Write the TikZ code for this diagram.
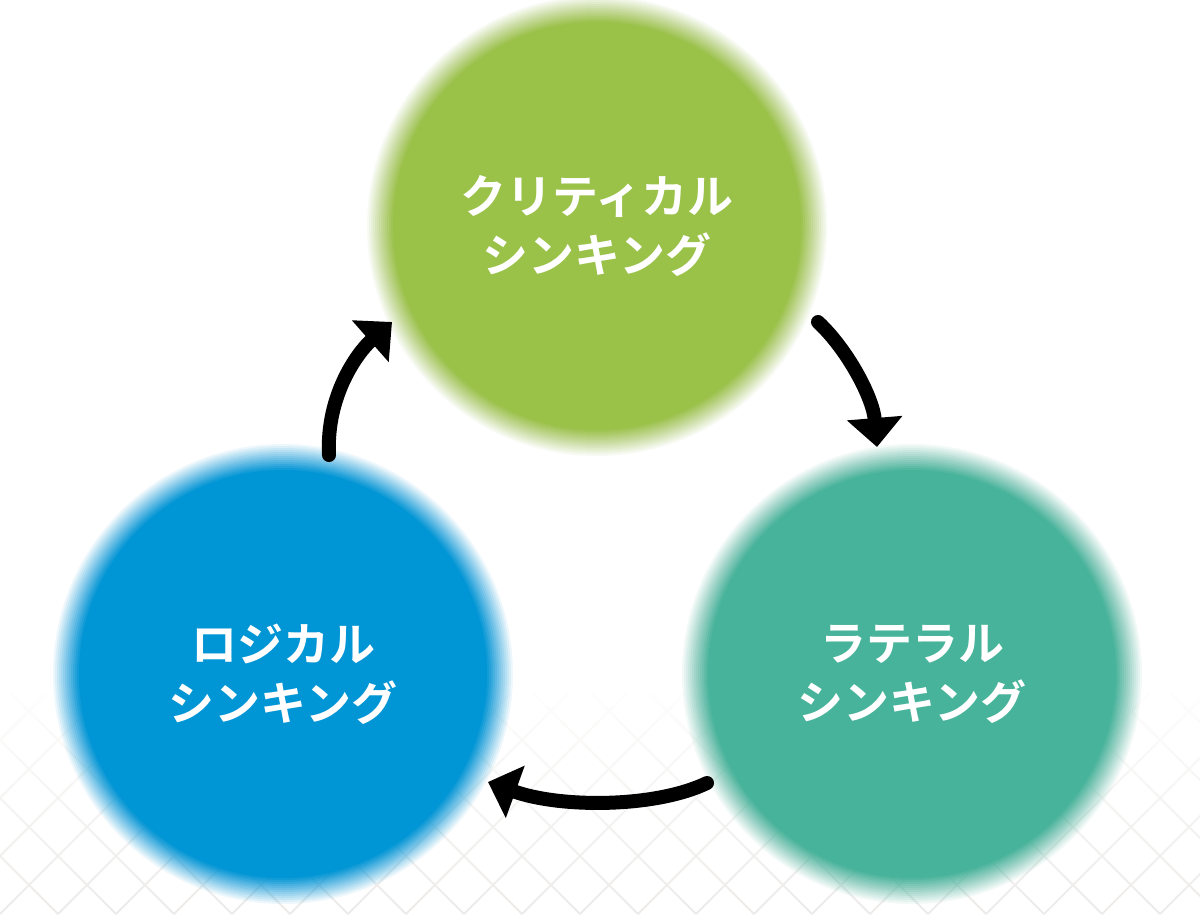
\documentclass[tikz,border=0pt]{standalone}
\usepackage{fontspec}
\newfontfamily\jp{Noto Sans CJK JP Bold}
\usetikzlibrary{arrows.meta}
\definecolor{cgreen}{HTML}{9AC148}
\definecolor{cblue}{HTML}{0095D5}
\definecolor{cteal}{HTML}{47B39A}
\definecolor{latcol}{HTML}{EDEBE9}
\pgfdeclarelayer{bg}
\pgfsetlayers{bg,main}
\tikzset{
  ball/.style={circle, inner sep=0pt, minimum size=428pt,
    text=white, align=center, font=\jp\fontsize{46}{59}\selectfont},
  cyc/.style={line width=14pt, line cap=round, -{Triangle[length=29pt,width=54pt]}},
  latline/.style={draw=latcol, line width=1.8pt}
}
% soft-edged disc: linear fade from radius 202pt (opaque) to 230pt (clear)
\newcommand{\blurdisc}[2]{%
  \foreach \j in {1,...,14} {
    \pgfmathsetmacro{\rr}{232-2*\j}
    \pgfmathsetmacro{\oo}{1/(15-\j)}
    \fill[#2, opacity=\oo] (#1.center) circle[radius=\rr pt];
  }
}
\begin{document}
\begin{tikzpicture}[x=1pt,y=-1pt]
\useasboundingbox (0,0) rectangle (1200,914);
% circles with text
\node[ball] (crit) at (597,226) {クリティカル\\シンキング};
\node[ball] (log) at (283,674) {ロジカル\\シンキング};
\node[ball] (lat) at (912,674) {ラテラル\\シンキング};
\begin{pgfonlayer}{bg}
  \fill[white] (0,0) rectangle (1200,914);
  \begin{scope}
    \clip (0,600) rectangle (1200,914);
    \foreach \k in {-20,...,40} {
      \draw[latline] (\k*58,914) -- ++(440,-440);
      \draw[latline] (\k*58,914) -- ++(-440,-440);
    }
  \end{scope}
  % white veil: opaque down to 680, fading linearly to clear at 914
  \foreach \j in {1,...,18} {
    \pgfmathsetmacro{\yb}{914-13*(\j-1)}
    \pgfmathsetmacro{\oo}{1/(19-\j)}
    \fill[white, opacity=\oo] (0,590) rectangle (1200,\yb);
  }
  \blurdisc{crit}{cgreen}
  \blurdisc{log}{cblue}
  \blurdisc{lat}{cteal}
\end{pgfonlayer}
% arrow end points
\coordinate (a1s) at (329,455);
\coordinate (a1e) at (392,322);
\coordinate (a2s) at (818,322);
\coordinate (a2e) at (877,447);
\coordinate (a3s) at (707,783);
\coordinate (a3e) at (488,782);
\draw[cyc] (a1s) .. controls (326,395) and (358,352) .. (a1e);
\draw[cyc] (a2s) .. controls (848,350) and (873,398) .. (a2e);
\draw[cyc] (a3s) .. controls (655,808) and (560,808) .. (a3e);
\end{tikzpicture}
\end{document}
